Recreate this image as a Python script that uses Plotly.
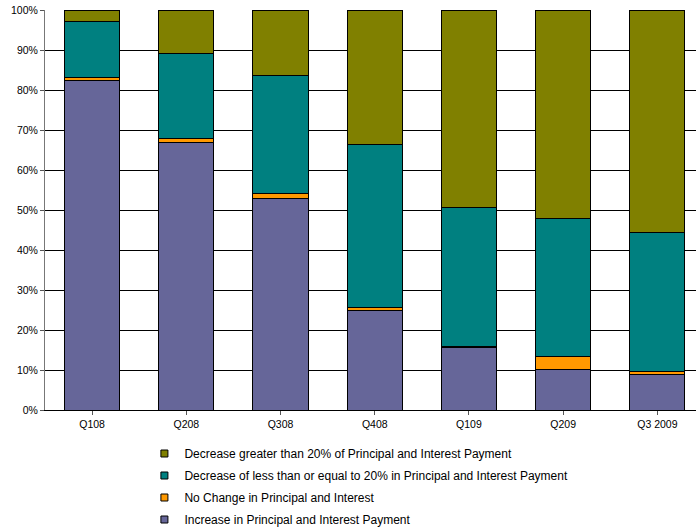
import plotly.graph_objects as go

categories = ["Q108", "Q208", "Q308", "Q408", "Q109", "Q209", "Q3 2009"]
increase = [82.5, 66.9, 52.9, 24.8, 15.6, 10.2, 8.8]
no_change = [0.6, 1.0, 1.2, 0.8, 0.3, 3.1, 0.8]
decrease_le20 = [14.1, 21.2, 29.5, 40.8, 34.8, 34.6, 34.8]
decrease_gt20 = [2.8, 10.9, 16.4, 33.6, 49.3, 52.1, 55.6]

series = [
    ("Increase in Principal and Interest Payment", increase, "#666699"),
    ("No Change in Principal and Interest", no_change, "#FF9900"),
    ("Decrease of less than or equal to 20% in Principal and Interest Payment", decrease_le20, "#008080"),
    ("Decrease greater than 20% of Principal and Interest Payment", decrease_gt20, "#808000"),
]

fig = go.Figure()
for i, (name, vals, color) in enumerate(series):
    fig.add_trace(go.Bar(
        x=list(range(len(categories))), y=vals, name=name,
        marker=dict(color=color, line=dict(color="black", width=1)),
        width=0.585, legendgroup=f"g{i}", showlegend=False,
    ))
    fig.add_trace(go.Scatter(
        x=[None], y=[None], mode="markers", name=name,
        marker=dict(symbol="square", size=7, color=color, line=dict(color="black", width=1)),
        legendgroup=f"g{i}", showlegend=True, legendrank=1000 - i,
    ))

fig.update_layout(
    width=696, height=528,
    margin=dict(l=45, r=0, t=10, b=118, autoexpand=False),
    barmode="stack", bargap=0.4,
    paper_bgcolor="white", plot_bgcolor="white",
    font=dict(family="Liberation Sans, Arial, sans-serif", size=10.5, color="black"),
    showlegend=True,
    legend=dict(
        x=0.1527, xanchor="left", y=-0.0725, yanchor="top",
        traceorder="grouped", tracegroupgap=3,
        font=dict(size=12, color="black"), itemwidth=30,
        bgcolor="rgba(0,0,0,0)",
    ),
)
fig.update_xaxes(
    tickmode="array", tickvals=list(range(len(categories))), ticktext=categories,
    range=[-0.5, 6.41], showgrid=False, showline=True, linecolor="black", linewidth=1,
    ticks="outside", tickson="boundaries", ticklen=4, tickcolor="#555555",
    fixedrange=True, zeroline=False,
)
fig.update_yaxes(
    range=[0, 100], dtick=10, ticksuffix="%", showgrid=True, gridcolor="black", gridwidth=1,
    showline=True, linecolor="#777777", linewidth=1, ticks="outside", ticklen=4,
    tickcolor="#555555", zeroline=False, fixedrange=True, ticklabeloverflow="allow",
)

fig.write_html(
    "out.html",
    config={"displayModeBar": False},
    post_script="document.body.style.margin='0';",
)
